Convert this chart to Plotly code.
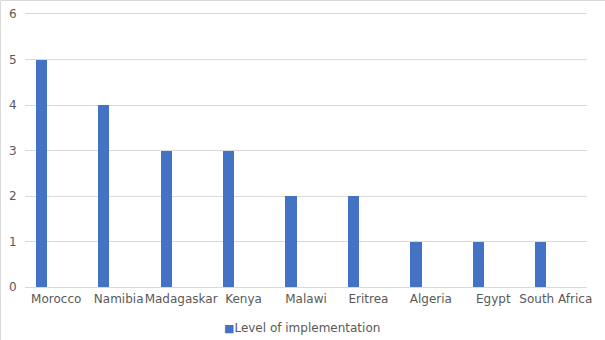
import plotly.graph_objects as go

countries = ["Morocco", "Namibia", "Madagaskar", "Kenya", "Malawi",
             "Eritrea", "Algeria", "Egypt", "South Africa"]
implementation = [5, 4, 3, 3, 2, 2, 1, 1, 1]
series_name = "Level of implementation"
y_ticks = [0, 1, 2, 3, 4, 5, 6]

TEXT = "#595959"
GRID = "#d9d9d9"
BAR = "#4472C4"

fig = go.Figure()
fig.add_trace(go.Bar(
    x=countries,
    y=implementation,
    name=series_name,
    marker=dict(color=BAR, line=dict(width=0)),
    width=0.18,
    offset=-0.33,
    showlegend=False,
))

# compact legend key: small square followed by the series name
fig.add_annotation(
    xref="paper", yref="paper",
    x=0.493, y=-0.150,
    xanchor="center", yanchor="middle",
    showarrow=False,
    text=(f"<span style='color:{BAR};font-size:11px'>■</span>"
          f"{series_name}"),
    font=dict(family="DejaVu Sans", size=12, color=TEXT),
)

fig.update_layout(
    width=605,
    height=340,
    margin=dict(l=25, r=18, t=14, b=53, autoexpand=False),
    paper_bgcolor="white",
    plot_bgcolor="white",
    font=dict(family="DejaVu Sans", size=12, color=TEXT),
    bargap=0,
    showlegend=False,
    xaxis=dict(
        type="category",
        showgrid=False,
        showline=True,
        mirror=True,  # top line doubles as the gridline at 6
        linecolor=GRID,
        linewidth=1,
        ticks="outside",
        ticklen=1,
        tickcolor="rgba(0,0,0,0)",
        tickfont=dict(size=12, color=TEXT),
        tickangle=0,
        automargin=False,
    ),
    yaxis=dict(
        range=[0, 6],
        tickvals=y_ticks,
        showgrid=True,
        gridcolor=GRID,
        gridwidth=1,
        zeroline=False,
        showline=False,
        ticks="outside",
        ticklen=5,
        tickcolor="rgba(0,0,0,0)",
        tickfont=dict(size=12, color=TEXT),
        automargin=False,
    ),
    shapes=[
        # chart frame (left and top edges of the canvas)
        dict(type="line", xref="paper", yref="paper",
             x0=-0.0436, x1=-0.0436, y0=-0.25, y1=1.0495,
             line=dict(color=GRID, width=1)),
        dict(type="line", xref="paper", yref="paper",
             x0=-0.0436, x1=1.04, y0=1.0495, y1=1.0495,
             line=dict(color=GRID, width=1)),
    ],
)

fig.write_html("out.html")
